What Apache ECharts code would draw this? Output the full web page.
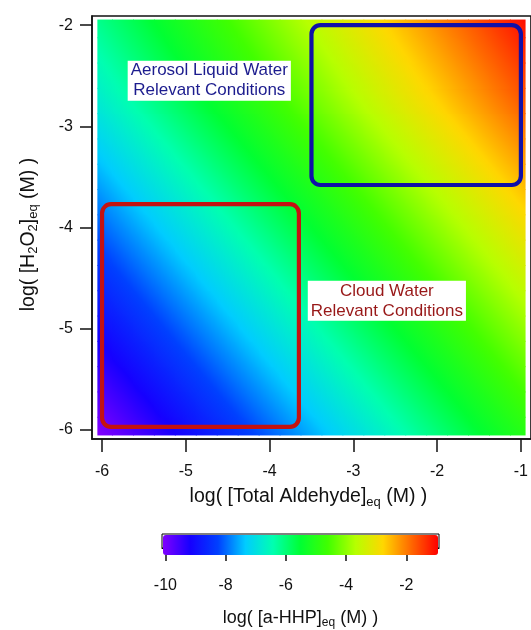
<!DOCTYPE html>
<html>
<head>
<meta charset="utf-8">
<script src="https://cdn.jsdelivr.net/npm/echarts@6/dist/echarts.min.js"></script>
<style>
html,body{margin:0;padding:0;background:#fff;}
#c{width:531px;height:630px;}
</style>
</head>
<body>
<div id="c"></div>
<script>
// ---- data ----
const xTicks = [-6, -5, -4, -3, -2, -1];
const yTicks = [-6, -5, -4, -3, -2];
const cbTicks = [-10, -8, -6, -4, -2];

// log10 [Total Aldehyde]eq (x) and log10 [H2O2]eq (y) sample positions
const aldehydeLog = [-6.00,-5.75,-5.50,-5.25,-5.00,-4.75,-4.50,-4.25,-4.00,-3.75,-3.50,-3.25,-3.00,-2.75,-2.50,-2.25,-2.00,-1.75,-1.50,-1.25,-1.00];
const h2o2Log = [-6.00,-5.75,-5.50,-5.25,-5.00,-4.75,-4.50,-4.25,-4.00,-3.75,-3.50,-3.25,-3.00,-2.75,-2.50,-2.25,-2.00];

// log10 [a-HHP]eq, one row per H2O2 value (bottom row first)
const hhpLog = [
  [-10.00,-9.75,-9.50,-9.25,-9.00,-8.75,-8.50,-8.25,-8.00,-7.75,-7.50,-7.25,-7.00,-6.75,-6.50,-6.25,-6.00,-5.75,-5.50,-5.25,-5.00],
  [-9.75,-9.50,-9.25,-9.00,-8.75,-8.50,-8.25,-8.00,-7.75,-7.50,-7.25,-7.00,-6.75,-6.50,-6.25,-6.00,-5.75,-5.50,-5.25,-5.00,-4.75],
  [-9.50,-9.25,-9.00,-8.75,-8.50,-8.25,-8.00,-7.75,-7.50,-7.25,-7.00,-6.75,-6.50,-6.25,-6.00,-5.75,-5.50,-5.25,-5.00,-4.75,-4.50],
  [-9.25,-9.00,-8.75,-8.50,-8.25,-8.00,-7.75,-7.50,-7.25,-7.00,-6.75,-6.50,-6.25,-6.00,-5.75,-5.50,-5.25,-5.00,-4.75,-4.50,-4.25],
  [-9.00,-8.75,-8.50,-8.25,-8.00,-7.75,-7.50,-7.25,-7.00,-6.75,-6.50,-6.25,-6.00,-5.75,-5.50,-5.25,-5.00,-4.75,-4.50,-4.25,-4.00],
  [-8.75,-8.50,-8.25,-8.00,-7.75,-7.50,-7.25,-7.00,-6.75,-6.50,-6.25,-6.00,-5.75,-5.50,-5.25,-5.00,-4.75,-4.50,-4.25,-4.00,-3.75],
  [-8.50,-8.25,-8.00,-7.75,-7.50,-7.25,-7.00,-6.75,-6.50,-6.25,-6.00,-5.75,-5.50,-5.25,-5.00,-4.75,-4.50,-4.25,-4.00,-3.75,-3.50],
  [-8.25,-8.00,-7.75,-7.50,-7.25,-7.00,-6.75,-6.50,-6.25,-6.00,-5.75,-5.50,-5.25,-5.00,-4.75,-4.50,-4.25,-4.00,-3.75,-3.50,-3.25],
  [-8.00,-7.75,-7.50,-7.25,-7.00,-6.75,-6.50,-6.25,-6.00,-5.75,-5.50,-5.25,-5.00,-4.75,-4.50,-4.25,-4.00,-3.75,-3.50,-3.25,-3.00],
  [-7.75,-7.50,-7.25,-7.00,-6.75,-6.50,-6.25,-6.00,-5.75,-5.50,-5.25,-5.00,-4.75,-4.50,-4.25,-4.00,-3.75,-3.50,-3.25,-3.00,-2.75],
  [-7.50,-7.25,-7.00,-6.75,-6.50,-6.25,-6.00,-5.75,-5.50,-5.25,-5.00,-4.75,-4.50,-4.25,-4.00,-3.75,-3.50,-3.25,-3.00,-2.75,-2.50],
  [-7.25,-7.00,-6.75,-6.50,-6.25,-6.00,-5.75,-5.50,-5.25,-5.00,-4.75,-4.50,-4.25,-4.00,-3.75,-3.50,-3.25,-3.00,-2.75,-2.50,-2.25],
  [-7.00,-6.75,-6.50,-6.25,-6.00,-5.75,-5.50,-5.25,-5.00,-4.75,-4.50,-4.25,-4.00,-3.75,-3.50,-3.25,-3.00,-2.75,-2.50,-2.25,-2.00],
  [-6.75,-6.50,-6.25,-6.00,-5.75,-5.50,-5.25,-5.00,-4.75,-4.50,-4.25,-4.00,-3.75,-3.50,-3.25,-3.00,-2.75,-2.50,-2.25,-2.00,-1.75],
  [-6.55,-6.30,-6.05,-5.80,-5.55,-5.30,-5.05,-4.80,-4.55,-4.30,-4.05,-3.80,-3.55,-3.30,-3.05,-2.80,-2.55,-2.30,-2.05,-1.80,-1.55],
  [-6.35,-6.10,-5.85,-5.60,-5.35,-5.10,-4.85,-4.60,-4.35,-4.10,-3.85,-3.60,-3.35,-3.10,-2.85,-2.60,-2.35,-2.10,-1.85,-1.60,-1.35],
  [-6.15,-5.90,-5.65,-5.40,-5.15,-4.90,-4.65,-4.40,-4.15,-3.90,-3.65,-3.40,-3.15,-2.90,-2.65,-2.40,-2.15,-1.90,-1.65,-1.40,-1.15]
];

// colour scale range
const hhpMin = -10.08;
const hhpMax = -0.95;

// highlighted regions [xFrom, xTo, yFrom, yTo] in log units
const aerosolBox = [-3.50, -1.00, -3.58, -2.00];
const cloudBox = [-6.00, -3.65, -5.97, -3.77];

// annotation anchor points [x, y]
const aerosolLabelPos = [-4.72, -2.55];
const cloudLabelPos = [-2.60, -4.725];
const aerosolLabel = 'Aerosol Liquid Water\nRelevant Conditions';
const cloudLabel = 'Cloud Water\nRelevant Conditions';

// ---- styling ----
const FONT = '"Liberation Sans", Arial, Helvetica, sans-serif';
const INK = '#111';
const rainbow = ['#8000ff', '#1500ff', '#0040ff', '#00ccff', '#00ffb0', '#00ff33',
                 '#41ff00', '#b6ff00', '#ffd700', '#ff6b00', '#ff0000'];

const rainbowRgb = rainbow.map(h => [parseInt(h.slice(1, 3), 16), parseInt(h.slice(3, 5), 16), parseInt(h.slice(5, 7), 16)]);
function colorAt(v) {
  let t = (v - hhpMin) / (hhpMax - hhpMin);
  t = Math.max(0, Math.min(1, t));
  const f = t * (rainbowRgb.length - 1);
  const i = Math.min(Math.floor(f), rainbowRgb.length - 2);
  const r = f - i, a = rainbowRgb[i], b = rainbowRgb[i + 1];
  return 'rgb(' + Math.round(a[0] + (b[0] - a[0]) * r) + ',' + Math.round(a[1] + (b[1] - a[1]) * r) + ',' + Math.round(a[2] + (b[2] - a[2]) * r) + ')';
}

// ---- chart ----
const chart = echarts.init(document.getElementById('c'), null, {renderer: 'canvas'});

const nx = aldehydeLog.length, ny = h2o2Log.length;
const cells = [];
h2o2Log.forEach((y, i) => aldehydeLog.forEach((x, j) => cells.push([x, y, hhpLog[i][j], i, j])));

const hx = (aldehydeLog[1] - aldehydeLog[0]) / 2;
const hy = (h2o2Log[1] - h2o2Log[0]) / 2;
const EDGE = 0.05;
const xLo = aldehydeLog[0] - EDGE, xHi = aldehydeLog[nx - 1] + EDGE;
const yLo = h2o2Log[0] - EDGE, yHi = h2o2Log[ny - 1] + EDGE;

function cellItem(params, api) {
  const i = api.value(3), j = api.value(4);
  const x = api.value(0), y = api.value(1), v = api.value(2);
  const x0 = Math.max(x - hx, xLo), x1 = Math.min(x + hx, xHi);
  const y0 = Math.max(y - hy, yLo), y1 = Math.min(y + hy, yHi);
  const a = api.coord([x0, y1]), b = api.coord([x1, y0]), c = api.coord([x, y]);
  // local slope of the field from neighbouring samples
  const jl = Math.max(j - 1, 0), jr = Math.min(j + 1, nx - 1);
  const il = Math.max(i - 1, 0), ir = Math.min(i + 1, ny - 1);
  const gX = (hhpLog[i][jr] - hhpLog[i][jl]) / (aldehydeLog[jr] - aldehydeLog[jl]);
  const gY = (hhpLog[ir][j] - hhpLog[il][j]) / (h2o2Log[ir] - h2o2Log[il]);
  const pxX = (b[0] - a[0]) / (x1 - x0), pxY = (b[1] - a[1]) / (y1 - y0);
  const gx = gX / pxX, gy = -gY / pxY, gm = Math.hypot(gx, gy);
  let fill = colorAt(v);
  if (gm > 1e-9) {
    const ux = gx / gm, uy = gy / gm;
    let smin = Infinity, smax = -Infinity;
    [[a[0], a[1]], [b[0], a[1]], [a[0], b[1]], [b[0], b[1]]].forEach(p => {
      const s = (p[0] - c[0]) * ux + (p[1] - c[1]) * uy;
      smin = Math.min(smin, s); smax = Math.max(smax, s);
    });
    smin -= 1; smax += 1;
    const stops = [];
    for (let k = 0; k <= 6; k++) {
      const t = k / 6, s = smin + (smax - smin) * t;
      stops.push({offset: t, color: colorAt(v + gm * s)});
    }
    fill = {type: 'linear', global: true, x: c[0] + ux * smin, y: c[1] + uy * smin,
            x2: c[0] + ux * smax, y2: c[1] + uy * smax, colorStops: stops};
  }
  return {type: 'rect',
          shape: {x: a[0] - 0.5, y: a[1] - 0.5, width: b[0] - a[0] + 1, height: b[1] - a[1] + 1},
          style: {fill: fill}};
}
function boxItem(color) {
  return function (params, api) {
    const a = api.coord([api.value(0), api.value(3)]);
    const b = api.coord([api.value(1), api.value(2)]);
    return {type: 'rect', shape: {x: a[0], y: a[1], width: b[0] - a[0], height: b[1] - a[1], r: 9},
            style: {fill: 'none', stroke: color, lineWidth: 4.2}};
  };
}
function labelItem(text, color) {
  return function (params, api) {
    const p = api.coord([api.value(0), api.value(1)]);
    return {type: 'text', x: p[0], y: p[1],
            style: {text: text, fill: color, font: '17px ' + FONT, align: 'center', verticalAlign: 'middle',
                    lineHeight: 20, backgroundColor: '#fff', padding: [0, 3, 0, 3]}};
  };
}

function nameStyle(size, sub, pad) {
  return {
    fontSize: size, color: INK, fontFamily: FONT, lineHeight: size + 4, padding: pad,
    rich: {s: {fontSize: sub, fontFamily: FONT, color: INK, verticalAlign: 'bottom', lineHeight: sub + 1}}
  };
}
const lineStyle = {color: INK, width: 1.5};

const option = {
  animation: false,
  backgroundColor: '#fff',
  grid: [
    {left: 92, top: 16, width: 443, height: 423, show: true, borderColor: INK, borderWidth: 1.5, backgroundColor: 'transparent'},
    {left: 162, top: 534, width: 277, height: 22, show: true, borderColor: '#000', borderWidth: 1, backgroundColor: 'transparent'}
  ],
  xAxis: [
    {type: 'value', gridIndex: 0, min: -6.12, max: -0.88, position: 'bottom',
     axisLine: {show: true, onZero: false, lineStyle: lineStyle},
     axisTick: {show: true, inside: false, length: 13, customValues: xTicks, lineStyle: lineStyle},
     axisLabel: {customValues: xTicks, margin: 25, color: INK, fontSize: 16, fontFamily: FONT},
     splitLine: {show: false},
     name: 'log( [Total Aldehyde]{s|eq} (M) )', nameLocation: 'middle', nameGap: 46,
     nameTextStyle: nameStyle(19.5, 13, [0, 6, 0, 0])},
    {type: 'value', gridIndex: 1, min: -10.113, max: -0.917, position: 'bottom',
     axisLine: {show: true, onZero: false, lineStyle: {color: '#000', width: 1}},
     axisTick: {show: true, inside: false, length: 13, customValues: cbTicks, lineStyle: lineStyle},
     axisLabel: {customValues: cbTicks, margin: 30, color: INK, fontSize: 16, fontFamily: FONT},
     splitLine: {show: false},
     name: 'log( [a-HHP]{s|eq} (M) )', nameLocation: 'middle', nameGap: 59,
     nameTextStyle: nameStyle(18, 12, 0)}
  ],
  yAxis: [
    {type: 'value', gridIndex: 0, min: -6.09, max: -1.91,
     axisLine: {show: true, onZero: false, lineStyle: lineStyle},
     axisTick: {show: true, inside: false, length: 12, customValues: yTicks, lineStyle: lineStyle},
     axisLabel: {customValues: yTicks, margin: 19, color: INK, fontSize: 16, fontFamily: FONT},
     splitLine: {show: false},
     name: 'log( [H{s|2}O{s|2}]{s|eq} (M) )', nameLocation: 'middle', nameGap: 52,
     nameTextStyle: nameStyle(19.5, 13, [0, 14, 0, 0])},
    {type: 'value', gridIndex: 1, show: false, min: 0, max: 1}
  ],
  visualMap: {
    type: 'continuous', seriesIndex: 0, dimension: 2, min: hhpMin, max: hhpMax,
    orient: 'horizontal', left: 163, top: 535, itemWidth: 20, itemHeight: 275,
    calculable: false, hoverLink: false, padding: 0, showLabel: false,
    inRange: {color: rainbow}
  },
  series: [
    {type: 'custom', name: 'a-HHP', xAxisIndex: 0, yAxisIndex: 0, data: cells, renderItem: cellItem, silent: true, z: 1},
    {type: 'custom', name: 'aerosol box', xAxisIndex: 0, yAxisIndex: 0, data: [aerosolBox], renderItem: boxItem('#1010a8'), silent: true, z: 3},
    {type: 'custom', name: 'cloud box', xAxisIndex: 0, yAxisIndex: 0, data: [cloudBox], renderItem: boxItem('#c41212'), silent: true, z: 3},
    {type: 'custom', name: 'aerosol label', xAxisIndex: 0, yAxisIndex: 0, data: [aerosolLabelPos], renderItem: labelItem(aerosolLabel, '#1c1c8e'), silent: true, z: 4},
    {type: 'custom', name: 'cloud label', xAxisIndex: 0, yAxisIndex: 0, data: [cloudLabelPos], renderItem: labelItem(cloudLabel, '#981818'), silent: true, z: 4}
  ]
};
chart.setOption(option);
</script>
</body>
</html>
